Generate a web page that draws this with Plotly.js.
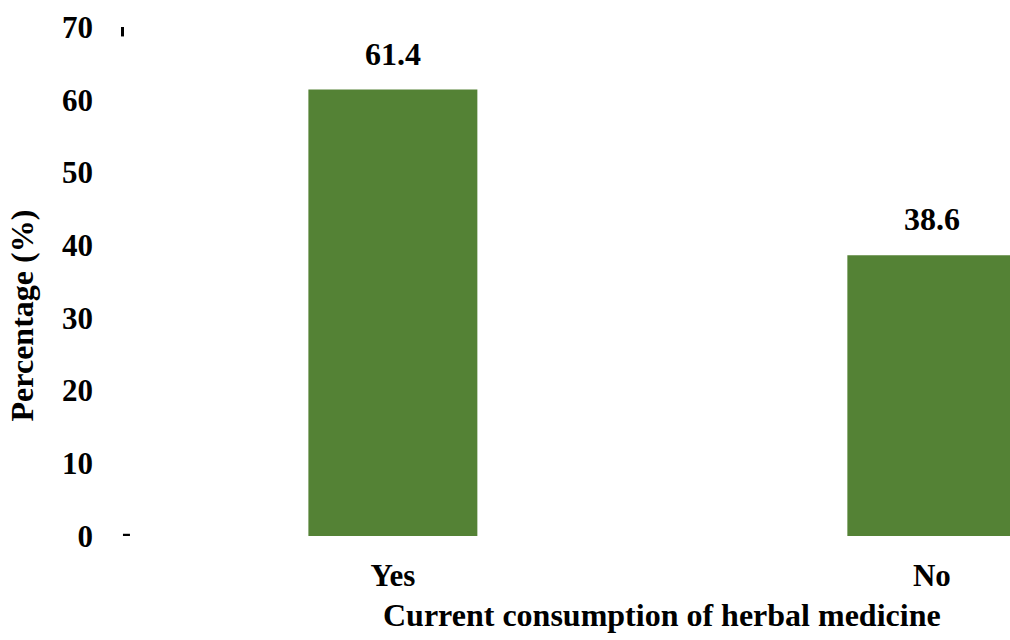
<!DOCTYPE html>
<html>
<head>
<meta charset="utf-8">
<script src="https://cdn.plot.ly/plotly-3.0.1.min.js"></script>
<style>html,body{margin:0;padding:0;background:#fff;}#chart{width:1010px;height:640px;}</style>
</head>
<body>
<div id="chart"></div>
<script>
var categories = ["Yes", "No"];
var percentages = [61.4, 38.6];
var yTickValues = [0, 10, 20, 30, 40, 50, 60, 70];
var xTitle = "Current consumption of herbal medicine";
var yTitle = "Percentage (%)";

var fontFamily = "Liberation Serif, Times New Roman, serif";

var trace = {
  type: "bar",
  x: categories,
  y: percentages,
  width: 0.3135,
  marker: { color: "#548235" },
  hoverinfo: "none"
};

var annotations = categories.map(function (c, i) {
  return {
    x: c, y: percentages[i], xref: "x", yref: "y",
    text: "<b>" + percentages[i].toFixed(1) + "</b>",
    showarrow: false, yanchor: "bottom", yshift: 16,
    font: { family: fontFamily, size: 32, color: "#000" }
  };
});
annotations.push({
  xref: "paper", yref: "paper", x: 0.607, y: -0.155,
  xanchor: "center", yanchor: "middle", showarrow: false,
  text: "<b>" + xTitle + "</b>",
  font: { family: fontFamily, size: 32, color: "#000" }
});
annotations.push({
  xref: "paper", yref: "paper", x: -0.116, y: 0.434,
  xanchor: "center", yanchor: "middle", showarrow: false, textangle: -90,
  text: "<b>" + yTitle + "</b>",
  font: { family: fontFamily, size: 32, color: "#000" }
});

var layout = {
  width: 1010, height: 640,
  margin: { l: 125, r: 0, t: 27, b: 104 },
  paper_bgcolor: "#fff", plot_bgcolor: "#fff",
  showlegend: false,
  font: { family: fontFamily, color: "#000" },
  xaxis: {
    type: "category",
    range: [-0.497, 1.145],
    showline: false, showgrid: false, zeroline: false,
    ticks: "", tickfont: { family: fontFamily, size: 31, color: "#000" },
    tickvals: categories,
    ticktext: categories.map(function (c) { return "<b>" + c + "</b>"; }),
    ticklabelstandoff: 18
  },
  yaxis: {
    range: [0, 70],
    tickvals: yTickValues,
    ticktext: yTickValues.map(function (v) { return "<b>" + v + "</b>"; }),
    showline: false, showgrid: false, zeroline: false,
    ticks: "", tickfont: { family: fontFamily, size: 31, color: "#000" },
    ticklabelstandoff: 31
  },
  shapes: [
    { type: "line", xref: "paper", yref: "y", x0: -0.0028, x1: -0.0028, y0: 68.7, y1: 70.6,
      line: { color: "#000", width: 3 } },
    { type: "line", xref: "paper", yref: "y", x0: -0.0023, x1: 0.0056, y0: 0.1, y1: 0.1,
      line: { color: "#000", width: 3 } }
  ],
  annotations: annotations
};

Plotly.newPlot("chart", [trace], layout, { displayModeBar: false, staticPlot: true });
</script>
</body>
</html>
